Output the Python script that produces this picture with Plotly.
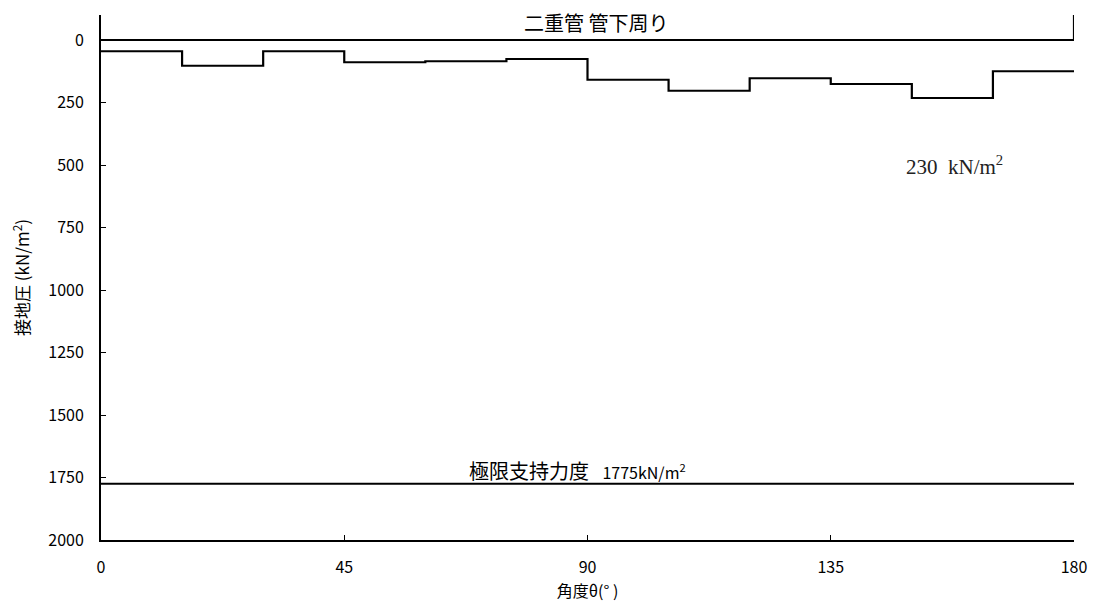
import plotly.graph_objects as go

# Step data: angle edges every 15 degrees, contact pressure (kN/m2)
angle_edges = [0, 15, 30, 45, 60, 75, 90, 105, 120, 135, 150, 165, 180]
pressure = [45, 103, 45, 89, 85, 76, 159, 203, 153, 176, 232, 125]

ref_x = [0, 180, 180]
ref_y = [0, 0, -100]

limit_value = 1775
x_ticks = [0, 45, 90, 135, 180]
y_ticks = [0, 250, 500, 750, 1000, 1250, 1500, 1750, 2000]

# build step line
sx, sy = [], []
for i, p in enumerate(pressure):
    sx += [angle_edges[i], angle_edges[i + 1]]
    sy += [p, p]

fig = go.Figure()
fig.add_trace(go.Scatter(x=ref_x, y=ref_y, mode="lines",
                         line=dict(color="black", width=2.2), showlegend=False))
fig.add_trace(go.Scatter(x=sx, y=sy, mode="lines",
                         line=dict(color="black", width=2.2), showlegend=False))
fig.add_trace(go.Scatter(x=[0, 180], y=[limit_value, limit_value], mode="lines",
                         line=dict(color="black", width=2.2), showlegend=False))

font_main = "Noto Sans CJK JP, Liberation Sans, sans-serif"

fig.add_annotation(x=91.6, y=-72, text="二重管 管下周り", showarrow=False,
                   font=dict(size=20, color="black", family=font_main))
fig.add_annotation(x=88.2, y=1720,
                   text="極限支持力度&nbsp;&nbsp;&nbsp;<span style='font-size:16px'>1775kN/m<sup>2</sup></span>",
                   showarrow=False,
                   font=dict(size=20, color="black", family=font_main))
fig.add_annotation(x=157.8, y=500, text="230&nbsp;&nbsp;kN/m<sup>2</sup>", showarrow=False,
                   font=dict(size=21, color="#222", family="Liberation Serif, DejaVu Serif, serif"))

fig.update_layout(
    width=1098, height=614,
    margin=dict(l=101, r=24, t=15, b=74),
    paper_bgcolor="white", plot_bgcolor="white",
    font=dict(family=font_main, size=16, color="black"),
    showlegend=False,
)
fig.update_xaxes(range=[0, 180], tickvals=x_ticks, ticktext=[str(v) for v in x_ticks],
                 showgrid=False, zeroline=False, showline=True, linecolor="black", linewidth=2,
                 ticks="inside", ticklen=5, tickcolor="black", ticklabelstandoff=12,
                 title=dict(text="角度θ(°&nbsp;)", font=dict(size=16), standoff=8),
                 tickfont=dict(size=16))
fig.update_yaxes(range=[2000, -100], tickvals=y_ticks, ticktext=[str(v) for v in y_ticks],
                 showgrid=False, zeroline=False, showline=True, linecolor="black", linewidth=2,
                 ticks="inside", ticklen=5, tickcolor="black", ticklabelstandoff=12,
                 title=dict(text="接地圧 (kN/m<sup>2</sup>)", font=dict(size=17), standoff=14),
                 tickfont=dict(size=16))

fig.write_html("out.html", config={"displayModeBar": False},
               post_script="document.body.style.margin='0';document.body.style.overflow='hidden';")
